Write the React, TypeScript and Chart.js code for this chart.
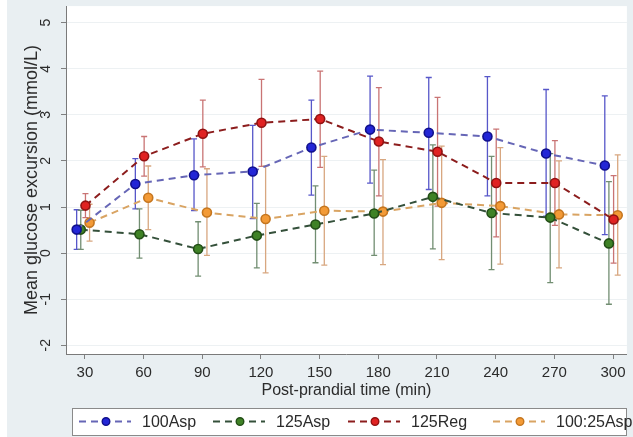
import React, { useEffect, useRef } from "react";
import { Chart, registerables } from "chart.js";

Chart.register(...registerables);

// ---- data ----
const TIMES = [30, 60, 90, 120, 150, 180, 210, 240, 270, 300];
const X_TICKS = [30, 60, 90, 120, 150, 180, 210, 240, 270, 300];
const Y_TICKS = [-2, -1, 0, 1, 2, 3, 4, 5];
const SERIES_LABELS = ["100Asp", "125Asp", "125Reg", "100:25Asp"];

const MEAN_100ASP = [0.51, 1.5, 1.69, 1.77, 2.29, 2.68, 2.61, 2.53, 2.16, 1.9];
const LO_100ASP = [0.08, 0.96, 0.92, 0.75, 1.26, 1.52, 1.38, 1.24, 0.8, 0.4];
const HI_100ASP = [0.94, 2.05, 2.48, 2.77, 3.32, 3.84, 3.81, 3.83, 3.55, 3.41];

const MEAN_125ASP = [0.51, 0.41, 0.09, 0.38, 0.62, 0.86, 1.22, 0.87, 0.77, 0.21];
const LO_125ASP = [0.08, -0.11, -0.5, -0.32, -0.21, -0.05, 0.09, -0.36, -0.64, -1.11];
const HI_125ASP = [0.93, 0.96, 0.68, 1.08, 1.46, 1.8, 2.35, 2.1, 2.16, 1.55];

const MEAN_125REG = [1.03, 2.1, 2.59, 2.83, 2.91, 2.42, 2.2, 1.52, 1.52, 0.73];
const LO_125REG = [0.77, 1.67, 1.87, 1.88, 1.86, 1.24, 1.02, 0.35, 0.6, -0.22];
const HI_125REG = [1.29, 2.53, 3.32, 3.77, 3.95, 3.59, 3.38, 2.69, 2.44, 1.68];

const MEAN_10025ASP = [0.66, 1.2, 0.88, 0.74, 0.92, 0.9, 1.09, 1.02, 0.84, 0.82];
const LO_10025ASP = [0.26, 0.51, -0.05, -0.43, -0.26, -0.25, -0.14, -0.24, -0.32, -0.48];
const HI_10025ASP = [1.06, 1.89, 1.83, 1.89, 2.1, 2.03, 2.32, 2.29, 2.0, 2.13];

const MEANS = [MEAN_100ASP, MEAN_125ASP, MEAN_125REG, MEAN_10025ASP];
const LOWS = [LO_100ASP, LO_125ASP, LO_125REG, LO_10025ASP];
const HIGHS = [HI_100ASP, HI_125ASP, HI_125REG, HI_10025ASP];

// ---- styles ----
const FONT = "'Liberation Sans', Arial, Helvetica, sans-serif";
const TEXT = "#2b2b2b";
const STYLES = [
  { line: "#6666b6", fill: "#2326d6", border: "#10108c", err: "#5757c9", dx: -4.2 },
  { line: "#34503a", fill: "#3f8226", border: "#224e16", err: "#728e72", dx: -2.1 },
  { line: "#8c1d1d", fill: "#e02222", border: "#921212", err: "#c97474", dx: 0.3 },
  { line: "#d9a463", fill: "#f39a36", border: "#c5761f", err: "#d8a780", dx: 2.4 },
];

const bgPlugin = {
  id: "bgPlugin",
  beforeDraw(chart: any) {
    const { ctx, width, height, chartArea } = chart;
    ctx.save();
    ctx.fillStyle = "#ffffff";
    ctx.fillRect(0, 0, width, height);
    ctx.fillStyle = "#e9eff2";
    ctx.fillRect(7, 0, width - 7, height);
    ctx.fillStyle = "#ffffff";
    ctx.fillRect(chartArea.left, chartArea.top, chartArea.right - chartArea.left, chartArea.bottom - chartArea.top);
    ctx.restore();
  },
};

const errorBarPlugin = {
  id: "errorBarPlugin",
  beforeDatasetsDraw(chart: any) {
    const { ctx } = chart;
    const ys = chart.scales.y;
    chart.data.datasets.forEach((ds: any, di: number) => {
      const meta = chart.getDatasetMeta(di);
      ctx.save();
      ctx.strokeStyle = ds.errColor;
      ctx.lineWidth = 1.3;
      meta.data.forEach((pt: any, i: number) => {
        const x = pt.x;
        const yl = ys.getPixelForValue(ds.errLo[i]);
        const yh = ys.getPixelForValue(ds.errHi[i]);
        ctx.beginPath();
        ctx.moveTo(x, yl);
        ctx.lineTo(x, yh);
        ctx.moveTo(x - 3, yl);
        ctx.lineTo(x + 3, yl);
        ctx.moveTo(x - 3, yh);
        ctx.lineTo(x + 3, yh);
        ctx.stroke();
      });
      ctx.restore();
    });
  },
};

const legendPlugin = {
  id: "stataLegend",
  afterDraw(chart: any) {
    const { ctx } = chart;
    const boxL = 72, boxT = 408, boxW = 554, boxH = 27;
    const cy = boxT + boxH / 2;
    const starts = [79, 213, 348, 493];
    ctx.save();
    ctx.fillStyle = "#ffffff";
    ctx.fillRect(boxL, boxT, boxW, boxH);
    ctx.strokeStyle = "#8a8a8a";
    ctx.lineWidth = 1;
    ctx.strokeRect(boxL + 0.5, boxT + 0.5, boxW, boxH);
    chart.data.datasets.forEach((ds: any, i: number) => {
      const x0 = starts[i];
      ctx.strokeStyle = ds.borderColor;
      ctx.lineWidth = 2;
      ctx.setLineDash([7, 5]);
      ctx.beginPath();
      ctx.moveTo(x0, cy);
      ctx.lineTo(x0 + 52, cy);
      ctx.stroke();
      ctx.setLineDash([]);
      ctx.beginPath();
      ctx.arc(x0 + 27, cy, 3.8, 0, Math.PI * 2);
      ctx.fillStyle = ds.pointBackgroundColor;
      ctx.fill();
      ctx.lineWidth = 1.4;
      ctx.strokeStyle = ds.pointBorderColor;
      ctx.stroke();
      ctx.fillStyle = TEXT;
      ctx.font = `16px ${FONT}`;
      ctx.textBaseline = "middle";
      ctx.textAlign = "left";
      ctx.fillText(ds.label, x0 + 63, cy + 1);
    });
    ctx.restore();
  },
};

export default function App() {
  const ref = useRef<HTMLCanvasElement | null>(null);

  useEffect(() => {
    document.body.style.margin = "0";
    const canvas = ref.current;
    if (!canvas) return;
    const datasets = SERIES_LABELS.map((label, si) => ({
      label,
      data: TIMES.map((t, i) => ({ x: t + STYLES[si].dx, y: MEANS[si][i] })),
      borderColor: STYLES[si].line,
      borderWidth: 2,
      borderDash: [7, 5],
      pointRadius: 4.5,
      pointBorderWidth: 1.6,
      pointBackgroundColor: STYLES[si].fill,
      pointBorderColor: STYLES[si].border,
      fill: false,
      tension: 0,
      errLo: LOWS[si],
      errHi: HIGHS[si],
      errColor: STYLES[si].err,
    }));

    const chart = new Chart(canvas, {
      type: "line",
      data: { datasets } as any,
      options: {
        responsive: false,
        animation: false,
        devicePixelRatio: 1,
        layout: { padding: { left: 0, right: 2, top: 1, bottom: 37 } },
        plugins: { legend: { display: false }, tooltip: { enabled: false } },
        scales: {
          x: {
            type: "linear",
            min: 20.35,
            max: 307.1,
            afterBuildTicks: (s: any) => {
              s.ticks = X_TICKS.map((v) => ({ value: v }));
            },
            afterFit: (s: any) => {
              s.height = 46;
              s.paddingLeft = 0;
              s.paddingRight = 0;
            },
            grid: { drawOnChartArea: false, drawTicks: true, tickLength: 5, tickColor: "#808080" },
            border: { display: true, color: "#7a7a7a", width: 1 },
            ticks: {
              padding: 5,
              maxRotation: 0,
              autoSkip: false,
              color: TEXT,
              font: { family: FONT, size: 15 },
            },
            title: {
              display: true,
              text: "Post-prandial time (min)",
              color: TEXT,
              font: { family: FONT, size: 16 },
              padding: { top: 0, bottom: 0 },
            },
          },
          y: {
            type: "linear",
            min: -2.19,
            max: 5.36,
            afterBuildTicks: (s: any) => {
              s.ticks = Y_TICKS.map((v) => ({ value: v }));
            },
            afterFit: (s: any) => {
              s.width = 66;
              s.paddingTop = 0;
              s.paddingBottom = 0;
            },
            grid: { color: "#edf1f3", lineWidth: 1, drawTicks: true, tickLength: 5, tickColor: "#808080" },
            border: { display: true, color: "#7a7a7a", width: 1 },
            ticks: {
              minRotation: 90,
              maxRotation: 90,
              crossAlign: "center",
              padding: 9,
              color: TEXT,
              font: { family: FONT, size: 14 },
            },
            title: {
              display: true,
              text: "Mean glucose excursion (mmol/L)",
              color: TEXT,
              font: { family: FONT, size: 18 },
              padding: { top: 21, bottom: 0 },
            },
          },
        },
      } as any,
      plugins: [bgPlugin, errorBarPlugin, legendPlugin],
    });
    return () => chart.destroy();
  }, []);

  return (
    <div style={{ width: 633, height: 437, overflow: "hidden" }}>
      <canvas ref={ref} width={633} height={437} style={{ display: "block", width: 633, height: 437 }} />
    </div>
  );
}
